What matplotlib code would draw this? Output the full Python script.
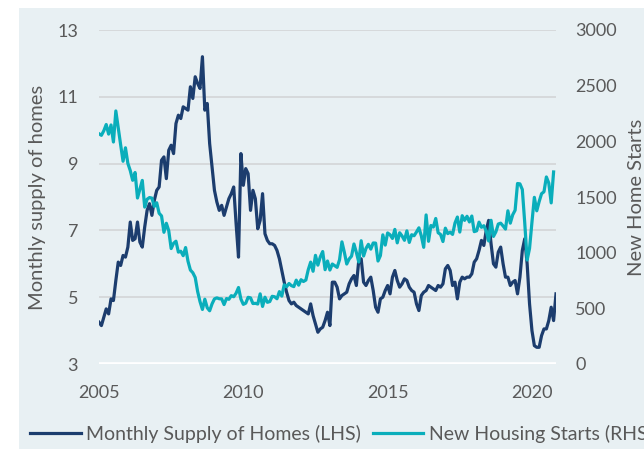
import numpy as np
import matplotlib
matplotlib.use("Agg")
import matplotlib.pyplot as plt
from matplotlib.patches import Rectangle
from matplotlib.lines import Line2D

plt.rcParams['font.family'] = ['Lato', 'DejaVu Sans']

# Monthly data, Jun 2005 onwards
supply = [
    4.25, 4.15, 4.4, 4.65, 4.5, 4.95, 4.9, 5.5, 6.05, 5.95,
    6.25, 6.2, 6.5, 7.25, 6.7, 6.75, 7.25, 6.65, 6.5, 7.1,
    7.6, 7.8, 7.45, 7.9, 8.2, 8.3, 9.1, 9.2, 8.55, 9.4,
    9.55, 9.3, 10.2, 10.45, 10.35, 10.7, 10.65, 10.6, 11.3, 10.95,
    11.6, 11.4, 11.25, 12.2, 10.6, 10.8, 9.6, 8.9, 8.2, 7.85,
    7.6, 7.75, 7.45, 7.7, 7.95, 8.1, 8.3, 7.2, 6.2, 9.3,
    8.35, 8.85, 8.7, 7.6, 8.2, 7.95, 7.05, 7.3, 8.1, 6.9,
    6.7, 6.6, 6.6, 6.55, 6.4, 6.15, 5.8, 5.45, 5.15, 4.9,
    4.8, 4.85, 4.75, 4.7, 4.65, 4.6, 4.55, 4.5, 4.8, 4.45,
    4.2, 3.95, 4.05, 4.1, 4.3, 4.55, 4.15, 5.45, 5.45, 5.3,
    4.95, 5.05, 5.1, 5.15, 5.4, 5.55, 5.65, 5.35, 6.1, 6.15,
    5.45, 5.35, 5.5, 5.6, 5.2, 4.7, 4.55, 4.95, 5.0, 5.2,
    5.35, 5.1, 5.6, 5.8, 5.5, 5.3, 5.4, 5.55, 5.5, 5.3,
    5.2, 5.15, 4.8, 4.6, 5.05, 5.15, 5.2, 5.35, 5.3, 5.25,
    5.2, 5.35, 5.3, 5.4, 5.85, 5.95, 5.8, 5.35, 5.45, 4.95,
    5.45, 5.6, 5.55, 5.6, 5.6, 5.7, 6.05, 6.15, 6.4, 6.7,
    6.55, 7.0, 7.3, 6.6, 6.0, 5.9, 6.35, 6.5, 6.0, 5.6,
    5.6, 5.35, 5.45, 5.5, 5.1, 5.6, 6.4, 6.75, 6.0, 4.8,
    4.0, 3.55, 3.5, 3.5, 3.85, 4.05, 4.05, 4.3, 4.7, 4.3,
    5.1,
]

starts = [
    2068, 2054, 2095, 2151, 2065, 2147, 1994,
    2273, 2119, 1969, 1821, 1942, 1802, 1737, 1650, 1720, 1491, 1570, 1649,
    1409, 1480, 1495, 1490, 1415, 1448, 1354, 1330, 1183, 1264, 1197, 1037,
    1084, 1103, 1005, 1013, 973, 1046, 923, 844, 820, 777, 652, 560,
    490, 582, 505, 478, 540, 585, 594, 586, 585, 534, 588, 581,
    614, 604, 636, 687, 583, 536, 546, 599, 594, 543, 545, 539,
    630, 517, 600, 554, 561, 608, 604, 586, 650, 610, 711, 694,
    723, 704, 695, 753, 708, 757, 741, 754, 847, 915, 833, 976,
    888, 962, 1010, 847, 925, 844, 898, 883, 868, 936, 1097, 1004,
    898, 943, 969, 1078, 1002, 916, 1107, 970, 1038, 1075, 1032, 1087,
    1086, 925, 974, 1160, 1068, 1177, 1161, 1128, 1209, 1088, 1179, 1150,
    1111, 1196, 1092, 1161, 1152, 1186, 1223, 1151, 1048, 1339, 1102, 1244,
    1230, 1307, 1179, 1164, 1100, 1220, 1171, 1184, 1164, 1266, 1320, 1185,
    1332, 1290, 1327, 1276, 1329, 1189, 1196, 1274, 1228, 1242, 1194, 1105,
    1291, 1146, 1187, 1257, 1265, 1240, 1212, 1376, 1265, 1340, 1381, 1621,
    1618, 1567, 1269, 934, 1038, 1273, 1497, 1376, 1459, 1530, 1547, 1680,
    1625, 1447, 1725,
]

year_labels = ['2005', '2010', '2015', '2020']
year_tick_months = [0, 60, 120, 180]
left_ticks = [3, 5, 7, 9, 11, 13]
right_ticks = [0, 500, 1000, 1500, 2000, 2500, 3000]

DARK = '#1C3D6E'
CYAN = '#0AAEBB'
TXT = '#595959'
BG = '#E8F0F3'

W, H = 644, 449
fig = plt.figure(figsize=(W / 100, H / 100), dpi=100, facecolor='white')
fig.patches.append(Rectangle((19 / W, 0), 1 - 19 / W, 1 - 8 / H,
                             transform=fig.transFigure, facecolor=BG,
                             edgecolor='none', zorder=-10))

ax = fig.add_axes([99 / W, 1 - 364 / H, (556 - 99) / W, (364 - 30) / H])
ax.set_zorder(1)
ax.patch.set_visible(False)
ax2 = ax.twinx()
ax2.set_zorder(2)
ax2.patch.set_visible(False)

x1 = np.arange(len(supply))
x2 = np.arange(len(starts))

ax.plot(x1, supply, color=DARK, lw=2.3, solid_joinstyle='round', zorder=3)
ax2.plot(x2, starts, color=CYAN, lw=2.3, solid_joinstyle='round', zorder=3)

ax.set_xlim(0, 190)
ax.set_ylim(3, 13)
ax2.set_ylim(0, 3000)
ax.set_yticks(left_ticks)
ax2.set_yticks(right_ticks)
ax.set_xticks(year_tick_months)
ax.set_xticklabels(year_labels)

ax.grid(axis='y', color='#D6D9DB', lw=1.4)
ax.set_axisbelow(True)

for a in (ax, ax2):
    for s in ('top', 'left', 'right', 'bottom'):
        a.spines[s].set_visible(False)
ax.axhline(3, color='white', lw=3.4, zorder=2.5)

ax.tick_params(axis='both', length=0, labelsize=13, labelcolor=TXT)
ax.tick_params(axis='y', pad=15)
ax.tick_params(axis='x', pad=15)
ax2.tick_params(axis='y', length=0, labelsize=13, labelcolor=TXT, pad=14)

fig.text(38 / W, 1 - 197 / H, 'Monthly supply of homes', rotation=90,
         ha='center', va='center', fontsize=14.5, color=TXT)
fig.text(637 / W, 1 - 197 / H, 'New Home Starts', rotation=90,
         ha='center', va='center', fontsize=14.5, color=TXT)

handles = [Line2D([], [], color=DARK, lw=2.3),
           Line2D([], [], color=CYAN, lw=2.3)]
fig.legend(handles, ['Monthly Supply of Homes (LHS)', 'New Housing Starts (RHS)'],
           loc='center left', bbox_to_anchor=(30 / W, 1 - 434 / H),
           ncol=2, frameon=False, fontsize=14, labelcolor=TXT,
           handlelength=2.6, handletextpad=0.3, columnspacing=0.6,
           borderpad=0, borderaxespad=0)

fig.savefig('out.png', dpi=100, facecolor='white')
